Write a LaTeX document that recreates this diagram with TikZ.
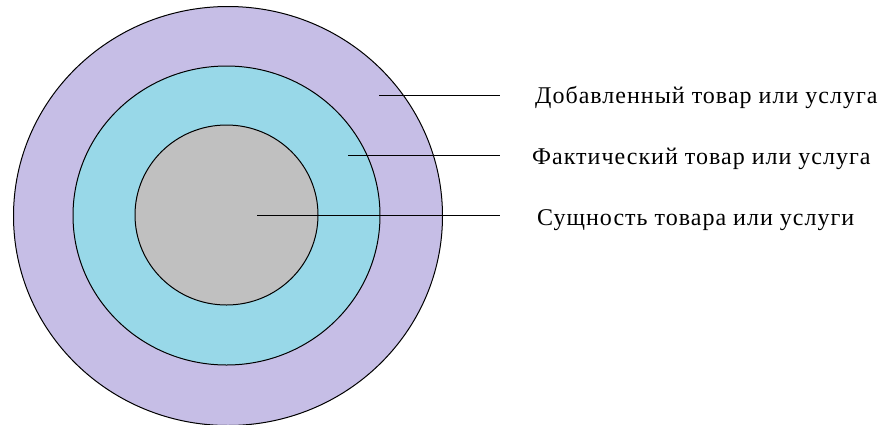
\documentclass[tikz,border=0pt]{standalone}
\usepackage{fontspec}
\setmainfont{Liberation Serif}
\newfontfamily\lblfont[LetterSpace=4.2]{Liberation Serif}
\definecolor{outerc}{RGB}{198,190,230}
\definecolor{midc}{RGB}{152,216,232}
\definecolor{innerc}{RGB}{192,192,192}
\begin{document}
\begin{tikzpicture}[x=1pt,y=1pt,
  ring/.style={draw=black,line width=1pt},
  lead/.style={draw=black,line width=1pt},
  lbl/.style={anchor=base west,inner sep=0pt,font=\lblfont\fontsize{24}{28}\selectfont}]
\useasboundingbox (0,0) rectangle (884,-424);
\fill[white] (0,0) rectangle (884,-424);
\draw[ring,fill=outerc] (228,-216) ellipse [x radius=214.5, y radius=209.5];
\draw[ring,fill=midc] (226.5,-215.5) ellipse [x radius=153.5, y radius=149.5];
\draw[ring,fill=innerc] (226.5,-215) ellipse [x radius=91.5, y radius=90];
\coordinate (s1) at (379,-95.7);
\coordinate (s2) at (348,-155.3);
\coordinate (s3) at (257,-215.3);
\coordinate (e1) at (500,-95.7);
\coordinate (e2) at (500,-155.3);
\coordinate (e3) at (500,-215.3);
\node[lbl] (t1) at (535,-103.5) {Добавленный товар или услуга};
\node[lbl] (t2) at (532,-164) {Фактический товар или услуга};
\node[lbl] (t3) at (537,-225) {Сущность товара или услуги};
\draw[lead] (s1) -- (e1);
\draw[lead] (s2) -- (e2);
\draw[lead] (s3) -- (e3);
\end{tikzpicture}
\end{document}
